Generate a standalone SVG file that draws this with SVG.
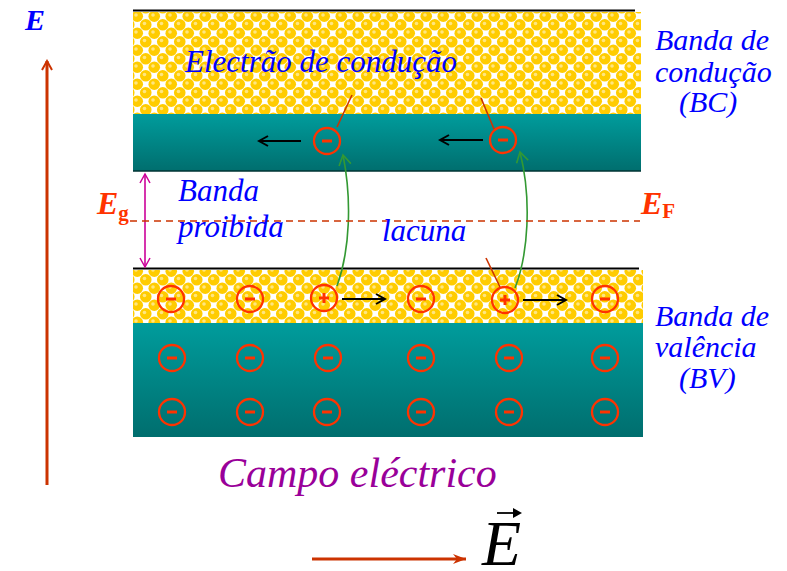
<svg xmlns="http://www.w3.org/2000/svg" width="787" height="571" viewBox="0 0 787 571">
<defs>
<pattern id="chk" width="17" height="17" patternUnits="userSpaceOnUse" x="133" y="12">
<rect width="17" height="17" fill="#ffffff"/>
<circle cx="4.25" cy="4.25" r="5.8" fill="#ffcc00"/>
<circle cx="12.75" cy="12.75" r="5.8" fill="#ffcc00"/>
<circle cx="21.25" cy="4.25" r="5.8" fill="#ffcc00"/>
<circle cx="-4.25" cy="12.75" r="5.8" fill="#ffcc00"/>
<circle cx="4.25" cy="21.25" r="5.8" fill="#ffcc00"/>
<circle cx="12.75" cy="-4.25" r="5.8" fill="#ffcc00"/>
<circle cx="3" cy="3" r="1.8" fill="#ffe680"/>
<circle cx="11.5" cy="11.5" r="1.8" fill="#ffe680"/>
</pattern>
<linearGradient id="teal" x1="0" y1="0" x2="0" y2="1">
<stop offset="0" stop-color="#009c9c"/>
<stop offset="1" stop-color="#006e6e"/>
</linearGradient>
<marker id="open" markerWidth="12" markerHeight="12" refX="10" refY="6" orient="auto" markerUnits="userSpaceOnUse">
<path d="M1,1 L10,6 L1,11" fill="none" stroke="context-stroke" stroke-width="2"/>
</marker>
<marker id="openS" markerWidth="12" markerHeight="12" refX="10" refY="6" orient="auto-start-reverse" markerUnits="userSpaceOnUse">
<path d="M1,1 L10,6 L1,11" fill="none" stroke="#cc0099" stroke-width="1.5"/>
</marker>
<marker id="green" markerWidth="14" markerHeight="14" refX="11" refY="7" orient="auto" markerUnits="userSpaceOnUse">
<path d="M1,1 L11,7 L1,13" fill="none" stroke="#339933" stroke-width="1.6"/>
</marker>
<marker id="filled" markerWidth="14" markerHeight="12" refX="13" refY="6" orient="auto" markerUnits="userSpaceOnUse">
<path d="M0,1 L13,6 L0,11 L4,6 Z" fill="#cc3300"/>
</marker>
</defs>
<style>
.c{fill:none;stroke:#ff3300;stroke-width:2.3}
.s{stroke:#ff3300;stroke-width:3}
.t{font-family:"Liberation Serif","Times New Roman",serif;font-style:italic;fill:#0000ff;font-size:31px}
.b{font-size:30px}
.e{font-family:"Liberation Serif","Times New Roman",serif;font-style:italic;font-weight:bold;fill:#ff3300}
</style>

<g id="conduction-band">
<rect x="133" y="12" width="508" height="102" fill="url(#chk)"/>
<rect x="133" y="114" width="508" height="57" fill="url(#teal)"/>
<line x1="133" y1="10.5" x2="635" y2="10.5" stroke="#000" stroke-width="2"/>
<line x1="133" y1="171" x2="641" y2="171" stroke="#003333" stroke-width="1.5"/>
</g>
<g id="valence-band">
<rect x="133" y="270" width="510" height="53" fill="url(#chk)"/>
<rect x="133" y="323" width="510" height="114" fill="url(#teal)"/>
<line x1="133" y1="268.5" x2="639" y2="268.5" stroke="#000" stroke-width="2"/>
</g>

<g id="electrons-bc">
<circle class="c" cx="327" cy="141" r="13"/><line class="s" x1="322" y1="141" x2="332" y2="141"/>
<circle class="c" cx="503" cy="140" r="13"/><line class="s" x1="498" y1="140" x2="508" y2="140"/>
</g>
<g id="valence-charges">
<circle class="c" cx="171" cy="299" r="13"/><line class="s" x1="166" y1="299" x2="176" y2="299"/>
<circle class="c" cx="250" cy="299" r="13"/><line class="s" x1="245" y1="299" x2="255" y2="299"/>
<circle class="c" cx="324" cy="298" r="13"/><line class="s" x1="319" y1="298" x2="329" y2="298"/><line class="s" x1="324" y1="293" x2="324" y2="303"/>
<circle class="c" cx="421" cy="299" r="13"/><line class="s" x1="416" y1="299" x2="426" y2="299"/>
<circle class="c" cx="505" cy="300" r="13"/><line class="s" x1="500" y1="300" x2="510" y2="300"/><line class="s" x1="505" y1="295" x2="505" y2="305"/>
<circle class="c" cx="605" cy="299" r="13"/><line class="s" x1="600" y1="299" x2="610" y2="299"/>
<circle class="c" cx="172" cy="358" r="13"/><line class="s" x1="167" y1="358" x2="177" y2="358"/>
<circle class="c" cx="250" cy="358" r="13"/><line class="s" x1="245" y1="358" x2="255" y2="358"/>
<circle class="c" cx="328" cy="358" r="13"/><line class="s" x1="323" y1="358" x2="333" y2="358"/>
<circle class="c" cx="421" cy="358" r="13"/><line class="s" x1="416" y1="358" x2="426" y2="358"/>
<circle class="c" cx="509" cy="358" r="13"/><line class="s" x1="504" y1="358" x2="514" y2="358"/>
<circle class="c" cx="605" cy="358" r="13"/><line class="s" x1="600" y1="358" x2="610" y2="358"/>
<circle class="c" cx="172" cy="412" r="13"/><line class="s" x1="167" y1="412" x2="177" y2="412"/>
<circle class="c" cx="250" cy="412" r="13"/><line class="s" x1="245" y1="412" x2="255" y2="412"/>
<circle class="c" cx="327" cy="412" r="13"/><line class="s" x1="322" y1="412" x2="332" y2="412"/>
<circle class="c" cx="421" cy="412" r="13"/><line class="s" x1="416" y1="412" x2="426" y2="412"/>
<circle class="c" cx="509" cy="412" r="13"/><line class="s" x1="504" y1="412" x2="514" y2="412"/>
<circle class="c" cx="605" cy="412" r="13"/><line class="s" x1="600" y1="412" x2="610" y2="412"/>
</g>

<g id="connectors">
<line x1="301" y1="141" x2="259" y2="141" stroke="#000" stroke-width="2" marker-end="url(#open)"/>
<line x1="483" y1="140" x2="440" y2="140" stroke="#000" stroke-width="2" marker-end="url(#open)"/>
<line x1="342" y1="299" x2="385" y2="299" stroke="#000" stroke-width="2" marker-end="url(#open)"/>
<line x1="523" y1="300" x2="566" y2="300" stroke="#000" stroke-width="2" marker-end="url(#open)"/>
<line x1="352" y1="95" x2="337" y2="127" stroke="#cc3300" stroke-width="1.6"/>
<line x1="481" y1="98" x2="494" y2="129" stroke="#cc3300" stroke-width="1.6"/>
<line x1="486" y1="258" x2="500" y2="287" stroke="#cc3300" stroke-width="1.6"/>
<path d="M337,286 C350,250 352,200 343,155" fill="none" stroke="#339933" stroke-width="1.6" marker-end="url(#green)"/>
<path d="M515,288 C528,255 532,200 520,152" fill="none" stroke="#339933" stroke-width="1.6" marker-end="url(#green)"/>
<line x1="145" y1="174" x2="145" y2="267" stroke="#cc0099" stroke-width="1.6" marker-start="url(#openS)" marker-end="url(#openS)"/>
<line x1="130" y1="221" x2="640" y2="221" stroke="#cc3300" stroke-width="1.6" stroke-dasharray="7,5"/>
<line x1="47" y1="485" x2="47" y2="61" stroke="#cc3300" stroke-width="3" marker-end="url(#open)"/>
<line x1="312" y1="559" x2="466" y2="559" stroke="#cc3300" stroke-width="3" marker-end="url(#filled)"/>
</g>

<g id="labels">
<text class="t" x="185" y="72">Electrão de condução</text>
<text class="t b" x="655" y="50">Banda de</text>
<text class="t b" x="655" y="82">condução</text>
<text class="t b" x="679" y="112">(BC)</text>
<text class="t" x="178" y="201">Banda</text>
<text class="t" x="178" y="237">proibida</text>
<text class="t" x="382" y="241">lacuna</text>
<text class="t b" x="655" y="326">Banda de</text>
<text class="t b" x="655" y="357">valência</text>
<text class="t b" x="679" y="388">(BV)</text>
<text x="218" y="487" font-family="'Liberation Serif','Times New Roman',serif" font-style="italic" font-size="42" fill="#990099">Campo eléctrico</text>
<text x="25" y="30" font-family="'Liberation Serif','Times New Roman',serif" font-style="italic" font-weight="bold" font-size="30" fill="#0000ff">E</text>
<text class="e" x="97" y="214" font-size="32">E<tspan font-size="21" dy="6" font-style="normal">g</tspan></text>
<text class="e" x="641" y="214" font-size="32">E<tspan font-size="21" dy="4" font-style="normal">F</tspan></text>
<text x="482" y="565" font-family="'Liberation Serif','Times New Roman',serif" font-style="italic" font-size="64" fill="#000">E</text>
<line x1="497" y1="513" x2="519" y2="513" stroke="#000" stroke-width="1.8"/>
<path d="M513,508 L522,513 L513,518 Z" fill="#000"/>
</g>
</svg>
